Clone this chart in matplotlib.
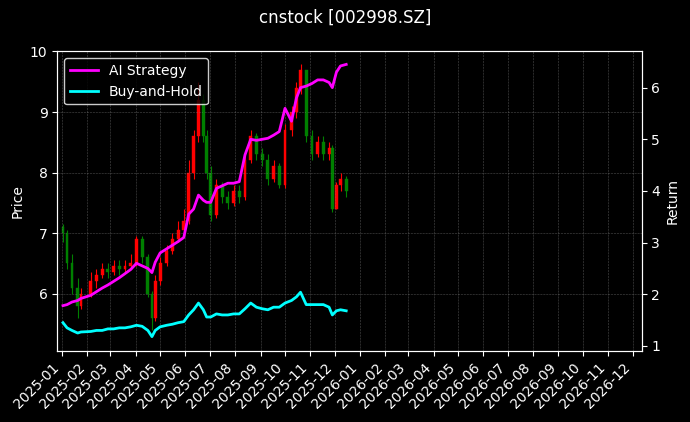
import pandas as pd
import matplotlib
matplotlib.use("Agg")
import matplotlib.pyplot as plt
import matplotlib.dates as mdates

# values, roughly one sample every week
dates = ["2025-01-02", "2025-01-07", "2025-01-13", "2025-01-20", "2025-01-24", "2025-02-05",
         "2025-02-12", "2025-02-19", "2025-02-26", "2025-03-05", "2025-03-12", "2025-03-19",
         "2025-03-26", "2025-04-02", "2025-04-09", "2025-04-16", "2025-04-21", "2025-04-25",
         "2025-05-01", "2025-05-09", "2025-05-16", "2025-05-23", "2025-05-30", "2025-06-05",
         "2025-06-11", "2025-06-17", "2025-06-23", "2025-06-27", "2025-07-02", "2025-07-09",
         "2025-07-16", "2025-07-23", "2025-07-30", "2025-08-06", "2025-08-13", "2025-08-20",
         "2025-08-27", "2025-09-03", "2025-09-10", "2025-09-17", "2025-09-24", "2025-10-01",
         "2025-10-09", "2025-10-15", "2025-10-20", "2025-10-27", "2025-11-03", "2025-11-10",
         "2025-11-17", "2025-11-24", "2025-11-28", "2025-12-03", "2025-12-08", "2025-12-15"]
opens = [7.10, 7.00, 6.50, 6.10, 5.80, 6.00, 6.20, 6.30, 6.40, 6.35, 6.45, 6.40, 6.45, 6.50,
         6.90, 6.60, 6.00, 5.60, 6.20, 6.50, 6.70, 6.90, 7.05, 7.20, 8.00, 8.60, 9.20, 8.60,
         8.00, 7.30, 7.80, 7.60, 7.50, 7.70, 7.60, 8.20, 8.60, 8.30, 8.20, 7.90, 8.10, 7.80,
         8.70, 9.00, 9.40, 9.70, 8.60, 8.30, 8.50, 8.30, 8.40, 7.40, 7.80, 7.90]
closes = [7.00, 6.50, 6.10, 5.80, 6.00, 6.20, 6.30, 6.40, 6.35, 6.45, 6.40, 6.45, 6.50, 6.90,
          6.60, 6.00, 5.60, 6.20, 6.50, 6.70, 6.90, 7.05, 7.20, 8.00, 8.60, 9.20, 8.60, 8.00,
          7.30, 7.80, 7.60, 7.50, 7.70, 7.60, 8.20, 8.60, 8.30, 8.20, 7.90, 8.10, 7.80, 8.70,
          9.00, 9.40, 9.70, 8.60, 8.30, 8.50, 8.30, 8.40, 7.40, 7.80, 7.90, 7.70]
highs = [7.15, 7.05, 6.65, 6.25, 6.10, 6.35, 6.40, 6.50, 6.50, 6.55, 6.55, 6.55, 6.65, 6.95,
         6.95, 6.65, 6.05, 6.30, 6.60, 6.80, 7.00, 7.20, 7.40, 8.20, 8.70, 9.50, 9.30, 8.70,
         8.10, 7.90, 7.85, 7.70, 7.80, 7.80, 8.30, 8.70, 8.65, 8.40, 8.30, 8.20, 8.15, 8.80,
         9.10, 9.50, 9.80, 9.70, 8.70, 8.60, 8.60, 8.50, 8.45, 7.85, 8.00, 7.95]
lows = [6.85, 6.40, 6.00, 5.60, 5.75, 5.95, 6.10, 6.25, 6.25, 6.30, 6.30, 6.35, 6.40, 6.45,
        6.50, 5.95, 5.40, 5.55, 6.15, 6.45, 6.65, 6.85, 7.00, 7.15, 7.90, 8.50, 8.50, 7.90,
        7.20, 7.25, 7.50, 7.40, 7.45, 7.50, 7.55, 8.15, 8.20, 8.10, 7.80, 7.85, 7.75, 7.75,
        8.60, 8.90, 9.30, 8.50, 8.20, 8.25, 8.20, 8.20, 7.35, 7.40, 7.70, 7.60]

ai_strategy = [1.78, 1.80, 1.85, 1.88, 1.92, 1.98, 2.05, 2.12, 2.18, 2.25, 2.32, 2.40, 2.48,
               2.60, 2.55, 2.50, 2.42, 2.62, 2.80, 2.88, 2.95, 3.02, 3.10, 3.55, 3.65, 3.92,
               3.82, 3.78, 3.78, 4.05, 4.10, 4.15, 4.15, 4.18, 4.70, 5.00, 4.98, 5.00, 5.02,
               5.08, 5.15, 5.60, 5.35, 5.80, 6.00, 6.03, 6.08, 6.15, 6.15, 6.10, 6.00, 6.30,
               6.42, 6.45]
buy_hold = [1.45, 1.35, 1.30, 1.25, 1.27, 1.28, 1.30, 1.30, 1.33, 1.33, 1.35, 1.35, 1.37,
            1.40, 1.38, 1.30, 1.18, 1.30, 1.37, 1.40, 1.42, 1.45, 1.47, 1.60, 1.70, 1.83,
            1.70, 1.56, 1.56, 1.62, 1.60, 1.60, 1.62, 1.62, 1.72, 1.83, 1.75, 1.72, 1.70,
            1.75, 1.75, 1.83, 1.88, 1.95, 2.04, 1.80, 1.80, 1.80, 1.80, 1.75, 1.60, 1.68,
            1.70, 1.68]

dates = pd.to_datetime(dates)

plt.rcParams['font.family'] = ['DejaVu Sans']
fig, ax = plt.subplots(figsize=(6.9, 4.22), dpi=100)
fig.patch.set_facecolor("black")
ax.set_facecolor("black")

dnum = mdates.date2num(dates)
for d, o, c, h, l in zip(dnum, opens, closes, highs, lows):
    col = "red" if c >= o else "green"
    ax.vlines(d, l, h, color=col, lw=0.8)
    ax.bar(d, max(abs(c - o), 0.02), bottom=min(o, c),
           width=3.5, color=col, edgecolor=col, lw=0.3)

ax.set_ylim(5.05, 10.0)
ax.set_ylabel("Price", color="white")
ax.set_xlim(mdates.date2num(pd.Timestamp("2024-12-26")), mdates.date2num(pd.Timestamp("2026-12-12")))
ax.xaxis.set_major_locator(mdates.MonthLocator())
ax.xaxis.set_major_formatter(mdates.DateFormatter("%Y-%m"))
plt.setp(ax.get_xticklabels(), rotation=45, ha="right")
ax.grid(True, color="gray", ls="--", lw=0.4, alpha=0.6)

ax2 = ax.twinx()
ax2.plot(dates, ai_strategy, color="magenta", lw=2, label="AI Strategy")
ax2.plot(dates, buy_hold, color="cyan", lw=2, label="Buy-and-Hold")
ax2.set_ylim(0.9, 6.7)
ax2.set_ylabel("Return", color="white")

for a in (ax, ax2):
    a.tick_params(colors="white")
    for s in a.spines.values():
        s.set_color("white")

leg = ax2.legend(loc="upper left", facecolor="black", edgecolor="white", labelcolor="white")
fig.suptitle("cnstock [002998.SZ]", color="white")
fig.subplots_adjust(left=0.083, right=0.93, top=0.878, bottom=0.168)
fig.savefig("out.png", facecolor="black")
